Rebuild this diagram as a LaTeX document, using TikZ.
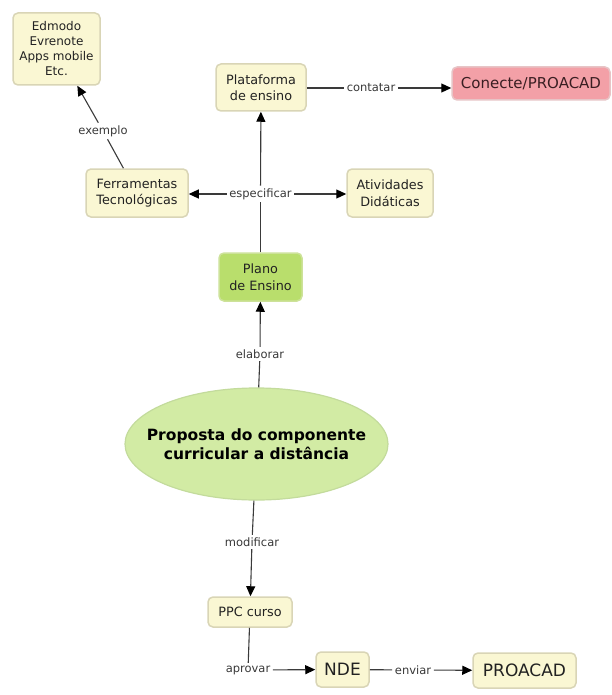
\documentclass[tikz,border=0pt]{standalone}
\usepackage{fontspec}
\setmainfont{DejaVu Sans}
\usetikzlibrary{arrows.meta,shapes.geometric}
\definecolor{cream}{HTML}{FAF7D3}
\definecolor{creamedge}{HTML}{D9D5B6}
\definecolor{planofill}{HTML}{B9DE6C}
\definecolor{planoedge}{HTML}{CDE29A}
\definecolor{ellfill}{HTML}{D2EBA4}
\definecolor{elledge}{HTML}{C3DB9C}
\definecolor{pinkfill}{HTML}{F3A0A7}
\definecolor{pinkedge}{HTML}{E7C4C6}
\definecolor{pinktext}{HTML}{3A1E22}
\definecolor{linecol}{HTML}{3A3A3A}
\definecolor{txt}{HTML}{222222}
\tikzset{
  x=1pt, y=-1pt,
  concept/.style={draw=creamedge, line width=1.5pt, fill=cream, rounded corners=5pt,
    align=center, text=txt, inner sep=0pt, font=\fontsize{12.8}{16.5}\selectfont},
  linklabel/.style={text=txt!90, inner sep=2.5pt, font=\fontsize{11.5}{13}\selectfont},
  conn/.style={draw=linecol, line width=1.1pt},
  arr/.style={conn, -{Triangle[length=10pt,width=9pt,color=black]}},
}
\begin{document}
\begin{tikzpicture}
\useasboundingbox (0,0) rectangle (611,695);
% concepts
\node[concept, minimum width=87pt, minimum height=72pt, font=\fontsize{12}{15}\selectfont] (edm) at (56.5,49) {Edmodo\\Evrenote\\Apps mobile\\Etc.};
\node[concept, minimum width=90pt, minimum height=47pt] (plat) at (261,87.5) {Plataforma\\de ensino};
\node[concept, draw=pinkedge, fill=pinkfill, minimum width=158pt, minimum height=33pt, text=pinktext, font=\fontsize{15}{18}\selectfont] (conecte) at (531,83.5) {Conecte/PROACAD};
\node[concept, minimum width=102pt, minimum height=48pt] (ferr) at (137,193) {Ferramentas\\Tecnológicas};
\node[concept, minimum width=86pt, minimum height=48pt] (ativ) at (390,193) {Atividades\\Didáticas};
\node[concept, draw=planoedge, fill=planofill, minimum width=83pt, minimum height=48pt] (plano) at (260.5,277) {Plano\\de Ensino};
\node[ellipse, draw=elledge, line width=1.2pt, fill=ellfill, inner sep=0pt,
  minimum width=263pt, minimum height=112pt] (prop) at (256.5,444) {};
\node[align=center, text=black, inner sep=0pt, font=\fontsize{15.5}{19.5}\selectfont\bfseries] (proptext) at (prop.center) {Proposta do componente\\curricular a distância};
\node[concept, minimum width=84pt, minimum height=30pt] (ppc) at (250,612) {PPC curso};
\node[concept, minimum width=53pt, minimum height=35pt, font=\fontsize{17}{20}\selectfont] (nde) at (342.5,669.5) {NDE};
\node[concept, minimum width=103pt, minimum height=35pt, font=\fontsize{17}{20}\selectfont] (proacad) at (524.5,670.5) {PROACAD};
% linking phrases
\node[linklabel] (exemplo) at (103,131) {exemplo};
\node[linklabel] (contatar) at (371,88) {contatar};
\node[linklabel] (esp) at (260.5,194) {especificar};
\node[linklabel] (elab) at (260,354) {elaborar};
\node[linklabel] (modif) at (252,542) {modificar};
\node[linklabel] (aprov) at (248,670) {aprovar};
\node[linklabel] (enviar) at (413,670) {enviar};
% connectors
\draw[conn] (ferr) -- (exemplo);
\draw[arr] (exemplo) -- (edm);
\draw[conn] (plat.east |- contatar) -- (contatar);
\draw[arr] (contatar) -- (contatar -| conecte.west);
\draw[conn] (plano) -- (esp);
\draw[arr] (esp) -- (plat);
\draw[arr] (esp) -- (esp -| ferr.east);
\draw[arr] (esp) -- (esp -| ativ.west);
\draw[conn] (prop) -- (elab);
\draw[arr] (elab) -- (plano);
\draw[conn] (prop) -- (modif);
\draw[arr] (modif) -- (ppc);
\draw[conn] (ppc) -- (aprov);
\draw[arr] (aprov) -- (nde);
\draw[conn] (nde) -- (enviar);
\draw[arr] (enviar) -- (proacad);
\end{tikzpicture}
\end{document}
